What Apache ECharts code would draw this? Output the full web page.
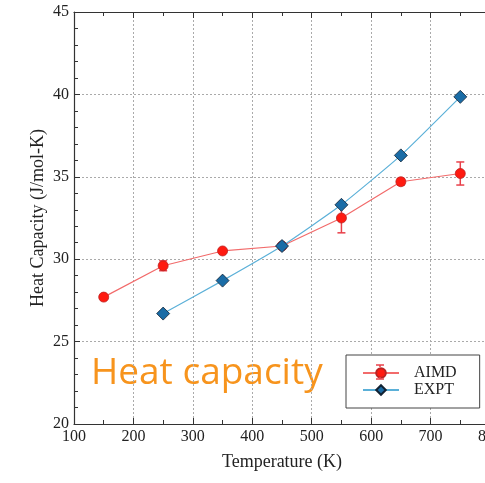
<!DOCTYPE html>
<html><head><meta charset="utf-8">
<script src="https://cdn.jsdelivr.net/npm/echarts@6/dist/echarts.min.js"></script>
<style>html,body{margin:0;padding:0;background:#fff}#c{width:485px;height:483px}</style>
</head><body><div id="c"></div>
<script>
var aimdT = [150, 250, 350, 450, 550, 650, 750];
var aimdCp = [27.7, 29.6, 30.5, 30.8, 32.5, 34.7, 35.2];
var aimdErr = [0.05, 0.3, 0.1, 0.1, 0.9, 0.2, 0.7];
var exptT = [250, 350, 450, 550, 650, 750];
var exptCp = [26.7, 28.7, 30.8, 33.3, 36.3, 39.85];
var xTicks = [100, 200, 300, 400, 500, 600, 700, 800];
var yTicks = [20, 25, 30, 35, 40, 45];

var chart = echarts.init(document.getElementById('c'), null, {renderer: 'canvas'});
var serif = 'Liberation Serif';
var errData = aimdT.map(function (t, i) { return [t, aimdCp[i] - aimdErr[i], aimdCp[i] + aimdErr[i]]; });

var baseX = {
  type: 'value', min: xTicks[0], max: xTicks[xTicks.length - 1], interval: 100,
  axisLine: {show: true, onZero: false, lineStyle: {color: '#333', width: 1.2}},
  axisTick: {show: true, inside: true, length: 6, lineStyle: {color: '#333'}},
  minorTick: {show: true, splitNumber: 2, length: 4, lineStyle: {color: '#333'}}
};
var option = {
  animation: false,
  backgroundColor: '#fff',
  grid: {left: 74, width: 416, top: 12, height: 412, containLabel: false, outerBoundsMode: 'none'},
  xAxis: [
    Object.assign({}, baseX, {
      position: 'bottom',
      name: 'Temperature (K)', nameLocation: 'middle', nameGap: 29,
      nameTextStyle: {fontFamily: serif, fontSize: 18, color: '#222'},
      axisLabel: {fontFamily: serif, fontSize: 16, color: '#222', margin: 5},
      splitLine: {show: true, lineStyle: {color: '#aaa', type: [2, 2], width: 1}}
    }),
    Object.assign({}, baseX, {
      position: 'top', axisLabel: {show: false}, splitLine: {show: false}
    })
  ],
  yAxis: {
    type: 'value', min: yTicks[0], max: yTicks[yTicks.length - 1], interval: 5,
    name: 'Heat Capacity (J/mol-K)', nameLocation: 'middle', nameGap: 27, nameMoveOverlap: false,
    nameTextStyle: {fontFamily: serif, fontSize: 18, color: '#222'},
    axisLine: {show: true, lineStyle: {color: '#333', width: 1.2}},
    axisTick: {show: true, inside: true, length: 6, lineStyle: {color: '#333'}},
    minorTick: {show: true, splitNumber: 5, length: 4, lineStyle: {color: '#333'}},
    axisLabel: {fontFamily: serif, fontSize: 16, color: '#222', margin: 5},
    splitLine: {show: true, lineStyle: {color: '#aaa', type: [2, 2], width: 1}}
  },
  legend: {
    left: 346, top: 355, orient: 'vertical',
    itemWidth: 36, itemHeight: 12, itemGap: 1,
    padding: [10, 23, 10, 16],
    borderColor: '#444', borderWidth: 1, backgroundColor: '#fff',
    textStyle: {fontFamily: serif, fontSize: 16, color: '#222', padding: [0, 0, 0, 10]},
    data: ['AIMD', 'EXPT']
  },
  graphic: [
    {
      type: 'text', left: 91, top: 355,
      style: {text: 'Heat capacity', fill: '#F7941D', font: '37px "Open Sans"'}
    },
    {type: 'line', z: 100, zlevel: 1, shape: {x1: 380, y1: 365, x2: 380, y2: 367}, style: {stroke: '#E8404A', lineWidth: 1.5}},
    {type: 'line', z: 100, zlevel: 1, shape: {x1: 380, y1: 377, x2: 380, y2: 379}, style: {stroke: '#E8404A', lineWidth: 1.5}},
    {type: 'line', z: 100, zlevel: 1, shape: {x1: 376, y1: 365, x2: 384, y2: 365}, style: {stroke: '#E8404A', lineWidth: 1.5}},
    {type: 'line', z: 100, zlevel: 1, shape: {x1: 376, y1: 379, x2: 384, y2: 379}, style: {stroke: '#E8404A', lineWidth: 1.5}}
  ],
  series: [
    {
      name: 'AIMD', type: 'line', data: aimdT.map(function (t, i) { return [t, aimdCp[i]]; }),
      symbol: 'circle', symbolSize: 10,
      lineStyle: {color: '#F26B6B', width: 1.2},
      itemStyle: {color: '#FF1A10', borderColor: '#B22', borderWidth: 0.8},
      z: 3
    },
    {
      name: 'AIMDerr', type: 'custom', data: errData, z: 2,
      renderItem: function (params, api) {
        var x = api.value(0);
        var lo = api.coord([x, api.value(1)]);
        var hi = api.coord([x, api.value(2)]);
        var w = 4;
        var st = {stroke: '#E8404A', lineWidth: 1.5};
        return {type: 'group', children: [
          {type: 'line', shape: {x1: lo[0], y1: lo[1], x2: hi[0], y2: hi[1]}, style: st},
          {type: 'line', shape: {x1: lo[0] - w, y1: lo[1], x2: lo[0] + w, y2: lo[1]}, style: st},
          {type: 'line', shape: {x1: hi[0] - w, y1: hi[1], x2: hi[0] + w, y2: hi[1]}, style: st}
        ]};
      }
    },
    {
      name: 'EXPT', type: 'line', data: exptT.map(function (t, i) { return [t, exptCp[i]]; }),
      symbol: 'diamond', symbolSize: 13, smooth: 0.15,
      lineStyle: {color: '#5BB0D8', width: 1.2},
      itemStyle: {color: '#1A6CA6', borderColor: '#123', borderWidth: 0.8},
      z: 4
    }
  ]
};
chart.setOption(option);
</script></body></html>
